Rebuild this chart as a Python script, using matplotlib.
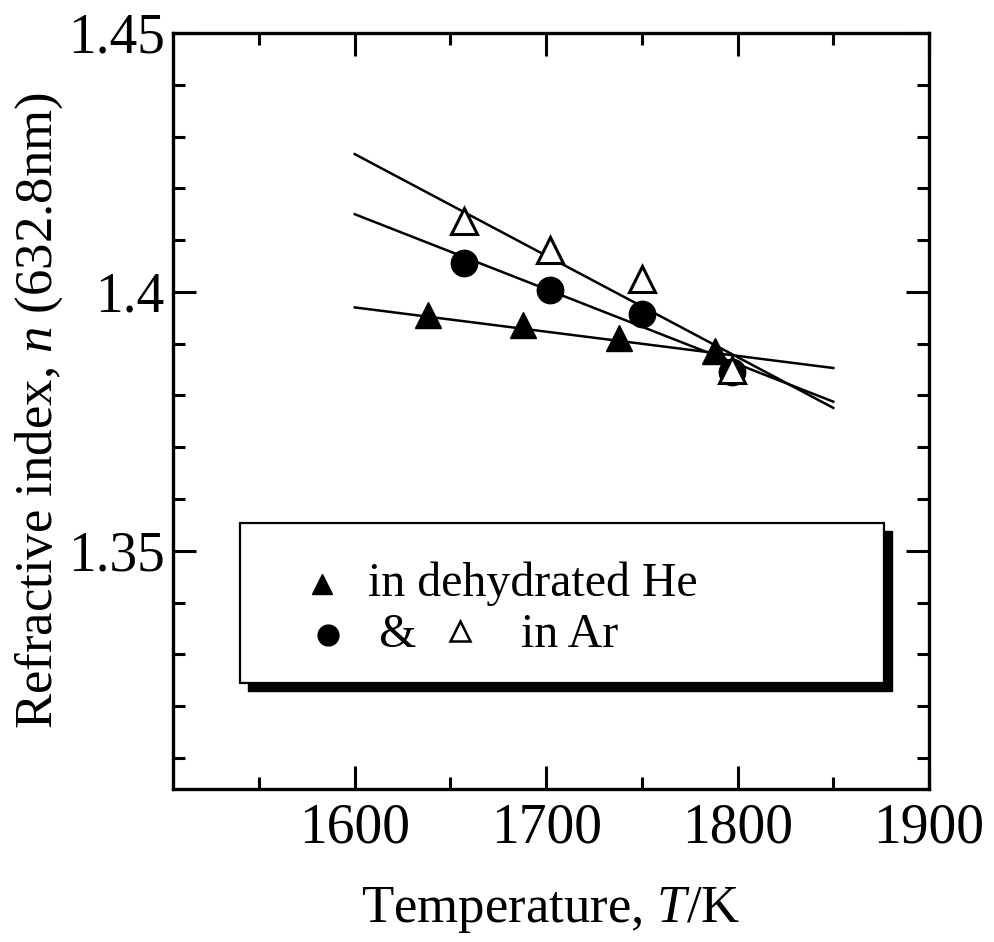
#!/usr/bin/env python3
"""Refractive index of melt versus temperature, with linear fits."""

import numpy as np
import matplotlib
matplotlib.use('Agg')
import matplotlib.pyplot as plt
from matplotlib.patches import Rectangle

plt.rcParams['font.family'] = ['Liberation Serif', 'DejaVu Serif']
plt.rcParams['mathtext.fontset'] = 'custom'
plt.rcParams['mathtext.rm'] = 'Liberation Serif'
plt.rcParams['mathtext.it'] = 'Liberation Serif:italic'

# measured points
temp_he = [1638, 1688, 1738, 1788]
n_he = [1.3956, 1.3936, 1.3911, 1.3885]

temp_ar = [1657, 1702, 1750, 1797]
n_ar_circle = [1.4055, 1.4003, 1.3958, 1.3846]
n_ar_triangle = [1.4136, 1.4081, 1.4025, 1.3849]

# fitted lines (end points)
fit_temp = [1600, 1850]
fit_he = [1.3970, 1.3853]
fit_circle = [1.4150, 1.3788]
fit_triangle = [1.4266, 1.3776]

x_major = [1600, 1700, 1800, 1900]
y_major = [1.35, 1.40, 1.45]
y_major_labels = ['1.35', '1.4', '1.45']


def main():
    fig = plt.figure(figsize=(9.94, 9.42), dpi=100)
    ax = fig.add_axes([0.174, 0.1624, 0.7606, 0.8026])

    ax.plot(fit_temp, fit_triangle, color='black', lw=1.8)
    ax.plot(fit_temp, fit_circle, color='black', lw=1.8)
    ax.plot(fit_temp, fit_he, color='black', lw=1.8)

    ax.plot(temp_he, n_he, '^', ms=19, color='black', mec='black')
    ax.plot(temp_ar, n_ar_circle, 'o', ms=19, color='black', mec='black')
    ax.plot(temp_ar, n_ar_triangle, '^', ms=19, mfc='white', mec='black',
            mew=2.2)

    ax.set_xlim(1505, 1900)
    ax.set_ylim(1.304, 1.45)
    ax.set_xticks(x_major)
    ax.set_xticks(np.arange(1550, 1900, 100), minor=True)
    ax.set_yticks(y_major)
    ax.set_yticklabels(y_major_labels)
    ax.set_yticks(np.arange(1.31, 1.45, 0.01), minor=True)

    ax.tick_params(which='both', direction='in', top=True, right=True,
                   width=2.2, labelsize=40)
    ax.tick_params(which='major', length=16.5)
    ax.tick_params(which='minor', length=8.6)
    ax.tick_params(axis='x', pad=10)
    ax.tick_params(axis='y', pad=6)
    for s in ax.spines.values():
        s.set_linewidth(2.4)

    ax.set_xlabel('Temperature, $\\mathit{T}$/K', fontsize=38)
    ax.set_ylabel('Refractive index, $\\mathit{n}$ (632.8nm)', fontsize=38)
    ax.xaxis.set_label_coords(0.5, -0.127)
    ax.yaxis.set_label_coords(-0.143, 0.5)

    # legend box with drop shadow
    bx, by, bw, bh = 0.0886, 0.1402, 0.852, 0.2117
    off = 0.0106
    ax.add_patch(Rectangle((bx + off, by - off), bw, bh, transform=ax.transAxes,
                           facecolor='black', edgecolor='black', zorder=5))
    ax.add_patch(Rectangle((bx, by), bw, bh, transform=ax.transAxes,
                           facecolor='white', edgecolor='black', lw=1.6,
                           zorder=6))
    ax.plot([0.197], [0.271], '^', ms=15, color='black',
            transform=ax.transAxes, zorder=7, clip_on=False)
    ax.plot([0.205], [0.2036], 'o', ms=15, color='black',
            transform=ax.transAxes, zorder=7, clip_on=False)
    ax.plot([0.38], [0.2085], '^', ms=14, mfc='white', mec='black', mew=1.8,
            transform=ax.transAxes, zorder=7, clip_on=False)
    ax.text(0.258, 0.271, 'in dehydrated He', fontsize=34.5,
            transform=ax.transAxes, va='center', zorder=7)
    ax.text(0.272, 0.2036, '&', fontsize=34.5,
            transform=ax.transAxes, va='center', zorder=7)
    ax.text(0.461, 0.2036, 'in Ar', fontsize=34.5,
            transform=ax.transAxes, va='center', zorder=7)

    fig.savefig('out.png', dpi=100)


main()
